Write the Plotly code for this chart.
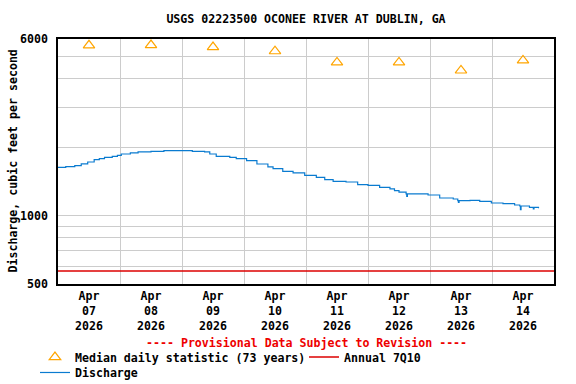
import plotly.graph_objects as go

# ---- data ----
discharge_time = [
    "2026-04-07 00:00", "2026-04-07 03:00", "2026-04-07 06:30", "2026-04-07 09:00",
    "2026-04-07 11:30", "2026-04-07 14:00", "2026-04-07 16:00", "2026-04-07 18:00",
    "2026-04-07 21:00", "2026-04-07 23:00", "2026-04-08 00:30", "2026-04-08 04:00",
    "2026-04-08 07:00", "2026-04-08 12:00", "2026-04-08 17:00", "2026-04-09 00:00",
    "2026-04-09 04:00", "2026-04-09 08:45", "2026-04-09 10:45", "2026-04-09 13:15",
    "2026-04-09 18:30", "2026-04-09 21:00", "2026-04-10 01:00", "2026-04-10 05:00",
    "2026-04-10 09:15", "2026-04-10 11:15", "2026-04-10 15:00", "2026-04-10 19:00",
    "2026-04-10 23:30", "2026-04-11 04:00", "2026-04-11 07:15", "2026-04-11 10:30",
    "2026-04-11 15:30", "2026-04-11 20:00", "2026-04-12 00:00", "2026-04-12 04:30",
    "2026-04-12 08:30", "2026-04-12 10:15", "2026-04-12 12:00", "2026-04-12 14:45",
    "2026-04-12 15:00", "2026-04-12 15:15", "2026-04-12 17:30", "2026-04-12 23:15",
    "2026-04-13 03:45", "2026-04-13 09:00", "2026-04-13 10:45", "2026-04-13 11:00",
    "2026-04-13 11:15", "2026-04-13 15:30", "2026-04-13 19:15", "2026-04-13 23:45",
    "2026-04-14 04:15", "2026-04-14 08:45", "2026-04-14 10:45", "2026-04-14 11:00",
    "2026-04-14 11:15", "2026-04-14 14:30", "2026-04-14 16:00", "2026-04-14 16:15",
    "2026-04-14 18:00",
]
discharge_cfs = [
    1632, 1645, 1660, 1690,
    1723, 1764, 1785, 1806,
    1825, 1843, 1869, 1890,
    1908, 1920, 1933, 1933,
    1919, 1908, 1869, 1824,
    1806, 1782, 1746, 1689,
    1639, 1610, 1567, 1542,
    1505, 1474, 1440, 1416,
    1407, 1369, 1359, 1332,
    1311, 1288, 1270, 1246,
    1216, 1246, 1246, 1233,
    1196, 1184, 1164, 1144,
    1164, 1168, 1156, 1137,
    1129, 1114, 1103, 1062,
    1103, 1087, 1070, 1087,
    1077,
]

median_days = ["2026-04-07 12:00", "2026-04-08 12:00", "2026-04-09 12:00", "2026-04-10 12:00",
               "2026-04-11 12:00", "2026-04-12 12:00", "2026-04-13 12:00", "2026-04-14 12:00"]
median_cfs = [5630, 5640, 5530, 5300, 4730, 4730, 4360, 4830]

q7_10_time = ["2026-04-07 00:00", "2026-04-15 00:00"]
q7_10_cfs = [570, 570]

y_tickvals = [500, 1000, 6000]
y_ticktext = ["500", "1000", "6000"]
y_minor_grid = [600, 700, 800, 900, 2000, 3000, 4000, 5000]

FONT = "DejaVu Sans Mono"
FS = 11.6
LEGFONT = dict(family=FONT, size=FS, weight="bold", color="black")

fig = go.Figure()
fig.add_trace(go.Scatter(
    x=median_days, y=median_cfs, mode="markers",
    name="Median daily statistic (73 years)",
    marker=dict(symbol="triangle-up-open", size=10, color="#FFA500", line=dict(width=1.2)),
    legend="legend",
))
fig.add_trace(go.Scatter(
    x=q7_10_time, y=q7_10_cfs, mode="lines", name="Annual 7Q10",
    line=dict(color="#DD0000", width=1.5), legend="legend3",
))
fig.add_trace(go.Scatter(
    x=discharge_time, y=discharge_cfs, mode="lines", name="Discharge",
    line=dict(color="#0A7BD0", width=1.2, shape="hv"), legend="legend2",
))

fig.update_layout(
    width=576, height=384,
    margin=dict(l=58, r=22, t=39, b=100, autoexpand=False),
    paper_bgcolor="white", plot_bgcolor="white",
    font=dict(family=FONT, size=FS, color="black", weight="bold"),
    title=dict(text="USGS 02223500 OCONEE RIVER AT DUBLIN, GA", xref="paper", x=0.5,
               xanchor="center", y=1 - 19 / 384, yanchor="middle",
               font=dict(family=FONT, size=FS, color="black", weight="bold")),
    showlegend=True,
    legend=dict(orientation="h", x=-0.0464, xanchor="left", y=-0.239, yanchor="top",
                bgcolor="rgba(0,0,0,0)", font=LEGFONT, itemwidth=30),
    legend3=dict(orientation="h", x=0.496, xanchor="left", y=-0.239, yanchor="top",
                 bgcolor="rgba(0,0,0,0)", font=LEGFONT, itemwidth=30),
    legend2=dict(orientation="h", x=-0.0464, xanchor="left", y=-0.302, yanchor="top",
                 bgcolor="rgba(0,0,0,0)", font=LEGFONT, itemwidth=30),
    annotations=[
        dict(text="---- Provisional Data Subject to Revision ----",
             xref="paper", yref="paper", x=0.5, y=-0.241, xanchor="center",
             yanchor="middle", showarrow=False,
             font=dict(family=FONT, size=FS, color="#EE0000", weight="bold")),
        dict(text="Discharge, cubic feet per second", textangle=-90,
             xref="paper", yref="paper", x=-0.0927, y=0.5, xanchor="center",
             yanchor="middle", showarrow=False,
             font=dict(family=FONT, size=FS, color="black", weight="bold")),
    ],
)

fig.update_xaxes(
    type="date", range=["2026-04-07 00:00", "2026-04-15 00:00"],
    tick0="2026-04-07", dtick=86400000, ticklabelmode="period",
    tickformat="%b<br>%d<br>%Y", showgrid=True, gridcolor="#CCCCCC", gridwidth=1,
    showline=True, linecolor="black", linewidth=1.5, mirror=True, ticks="",
    zeroline=False, automargin=False,
)
fig.update_yaxes(
    type="log", range=[2.69897, 3.778151],
    tickmode="array", tickvals=y_tickvals, ticktext=y_ticktext,
    showgrid=True, gridcolor="#CCCCCC", gridwidth=1,
    minor=dict(tickmode="array", tickvals=y_minor_grid, showgrid=True,
               gridcolor="#CCCCCC", gridwidth=1, ticks=""),
    showline=True, linecolor="black", linewidth=1.5, mirror=True, ticks="",
    ticklabelstandoff=6, automargin=False,
    zeroline=False,
)

fig.write_html("out.html", config={"displayModeBar": False},
               post_script="document.body.style.margin='0';")
